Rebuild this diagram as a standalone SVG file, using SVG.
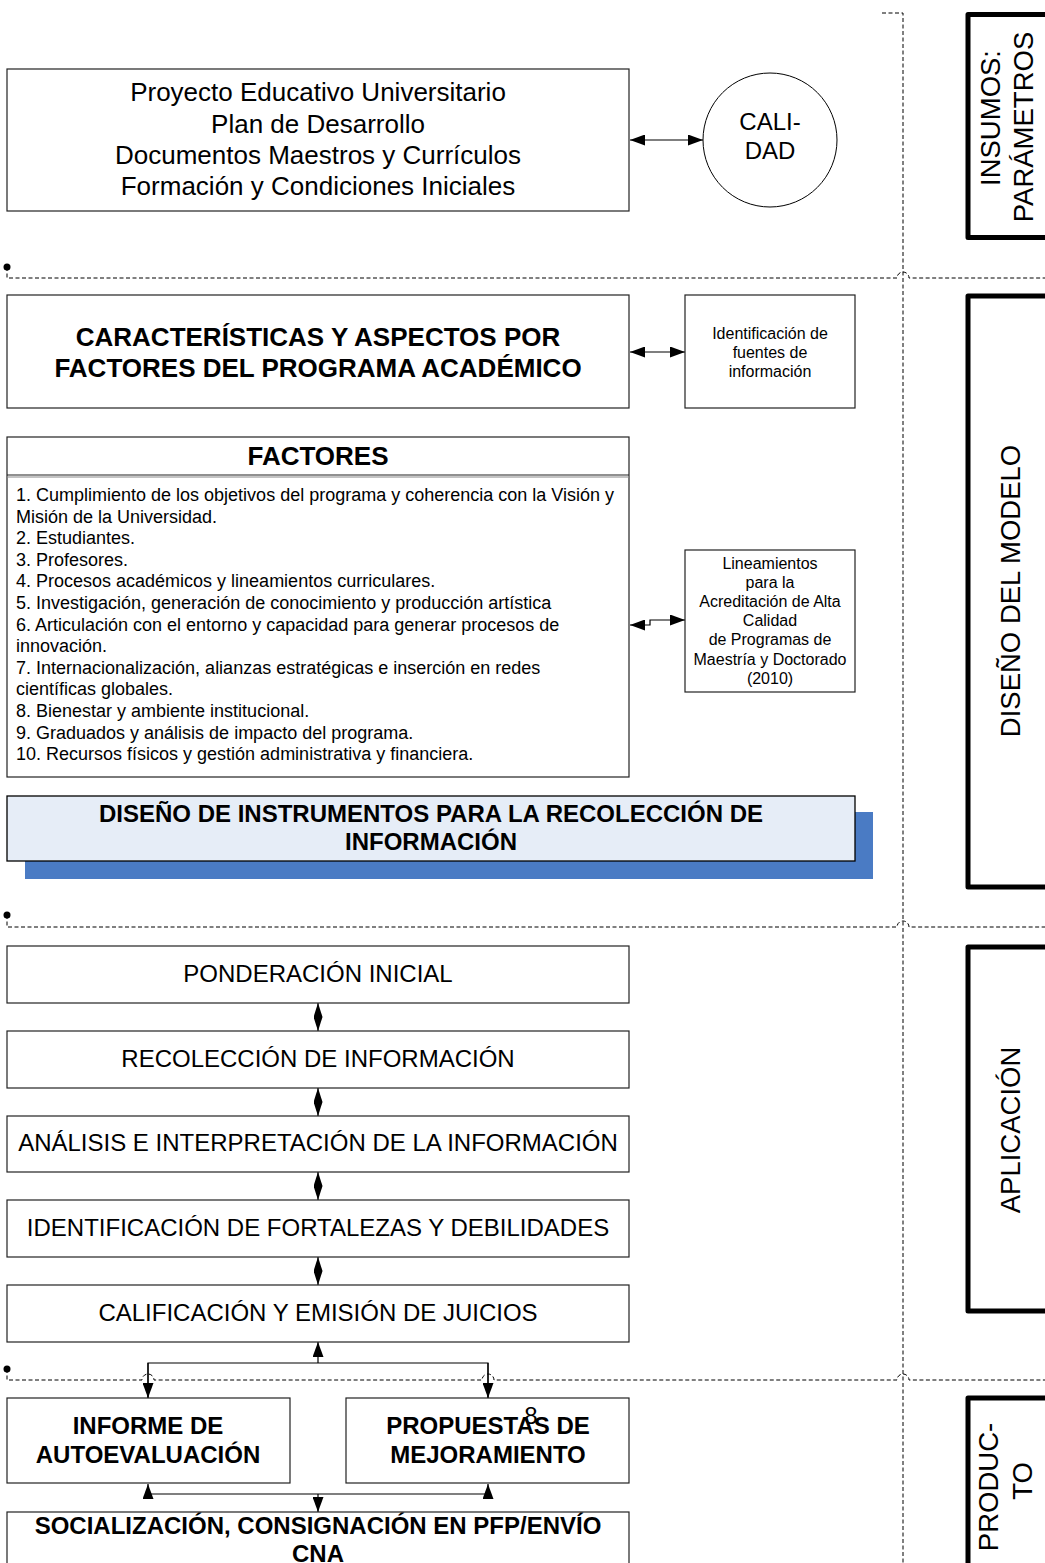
<svg xmlns="http://www.w3.org/2000/svg" width="1045" height="1563" viewBox="0 0 1045 1563">
<style>
text{font-family:"Liberation Sans",Arial,sans-serif;fill:#000}
.box{fill:#fff;stroke:#222;stroke-width:1.2}
.c{text-anchor:middle}
.b{font-weight:bold}
.f26{font-size:26px}.f24{font-size:24px}.f18{font-size:18px}.f16{font-size:16px}.f27{font-size:27.5px}
.dash{fill:none;stroke:#000;stroke-width:1;stroke-dasharray:4,2.5}
.br{fill:none;stroke:#000;stroke-width:5;stroke-linejoin:round}
.con{fill:none;stroke:#000;stroke-width:1.2}
</style>
<defs>
<marker id="ah" viewBox="0 0 15 11" refX="15" refY="5.5" markerWidth="15" markerHeight="11" markerUnits="userSpaceOnUse" orient="auto-start-reverse"><path d="M0,0 L15,5.5 L0,11 z" fill="#000"/></marker>
<marker id="sh" viewBox="0 0 14 9" refX="14" refY="4.5" markerWidth="14" markerHeight="9" markerUnits="userSpaceOnUse" orient="auto-start-reverse"><path d="M0,0 L14,4.5 L0,9 z" fill="#000"/></marker>
</defs>

<g id="swimlanes">
<path class="dash" d="M882,13 H903 V1563"/>
<path class="dash" d="M7,267 V278 H897 a6,6 0 0 1 12,0 H1045"/>
<path class="dash" d="M7,915 V927 H897 a6,6 0 0 1 12,0 H1045"/>
<path class="dash" d="M7,1369 V1380 H142 a6,6 0 0 1 12,0 H482 a6,6 0 0 1 12,0 H897 a6,6 0 0 1 12,0 H1045"/>
<circle cx="7" cy="267" r="3.5" fill="#000"/>
<circle cx="7" cy="915" r="3.5" fill="#000"/>
<circle cx="7" cy="1369" r="3.5" fill="#000"/>
</g>

<g id="lane-insumos">
<path class="br" d="M1047,14.5 H968 V237.5 H1047"/>
<text class="f27 c" transform="translate(1000,118) rotate(-90)">INSUMOS:</text>
<text class="f27 c" transform="translate(1033,127) rotate(-90)">PARÁMETROS</text>
</g>
<g id="lane-diseno">
<path class="br" d="M1047,296 H968 V887 H1047"/>
<text class="f27 c" transform="translate(1020,591) rotate(-90)">DISEÑO DEL MODELO</text>
</g>
<g id="lane-aplicacion">
<path class="br" d="M1047,947 H968 V1311 H1047"/>
<text class="f27 c" transform="translate(1020,1130) rotate(-90)">APLICACIÓN</text>
</g>
<g id="lane-producto">
<path class="br" d="M1047,1398 H968 V1568"/>
<text class="f27 c" transform="translate(998,1487) rotate(-90)">PRODUC-</text>
<text class="f27 c" transform="translate(1032,1481) rotate(-90)">TO</text>
</g>

<g id="connectors">
<line class="con" x1="630" y1="140" x2="703" y2="140" marker-start="url(#ah)" marker-end="url(#ah)"/>
<line class="con" x1="630" y1="352" x2="685" y2="352" marker-start="url(#ah)" marker-end="url(#ah)"/>
<path class="con" d="M630,625 H650 V620 H685" marker-start="url(#ah)" marker-end="url(#ah)"/>
<line class="con" x1="318" y1="1003" x2="318" y2="1031" marker-start="url(#sh)" marker-end="url(#sh)"/>
<line class="con" x1="318" y1="1088" x2="318" y2="1116" marker-start="url(#sh)" marker-end="url(#sh)"/>
<line class="con" x1="318" y1="1172" x2="318" y2="1200" marker-start="url(#sh)" marker-end="url(#sh)"/>
<line class="con" x1="318" y1="1257" x2="318" y2="1285" marker-start="url(#sh)" marker-end="url(#sh)"/>
<line class="con" x1="318" y1="1363" x2="318" y2="1342" marker-end="url(#ah)"/>
<path class="con" d="M148,1398 V1363 H488 V1398"/>
<line class="con" x1="148" y1="1363" x2="148" y2="1398" marker-end="url(#ah)"/>
<line class="con" x1="488" y1="1363" x2="488" y2="1398" marker-end="url(#ah)"/>
<path class="con" d="M148,1494 H488"/>
<line class="con" x1="148" y1="1494" x2="148" y2="1484" marker-end="url(#ah)"/>
<line class="con" x1="488" y1="1494" x2="488" y2="1484" marker-end="url(#ah)"/>
<line class="con" x1="318" y1="1494" x2="318" y2="1512" marker-end="url(#ah)"/>
</g>

<g id="n-proyecto">
<rect class="box" x="7" y="69" width="622" height="142"/>
<text class="f26 c" x="318" y="101">Proyecto Educativo Universitario</text>
<text class="f26 c" x="318" y="132.5">Plan de Desarrollo</text>
<text class="f26 c" x="318" y="164">Documentos Maestros y Currículos</text>
<text class="f26 c" x="318" y="195">Formación y Condiciones Iniciales</text>
</g>
<g id="n-calidad">
<circle cx="770" cy="140" r="67" fill="#fff" stroke="#000" stroke-width="1"/>
<text class="f24 c" x="770" y="130">CALI-</text>
<text class="f24 c" x="770" y="159">DAD</text>
</g>
<g id="n-caracteristicas">
<rect class="box" x="7" y="295" width="622" height="113"/>
<text class="f26 c b" x="318" y="345.5">CARACTERÍSTICAS Y ASPECTOS POR</text>
<text class="f26 c b" x="318" y="376.5">FACTORES DEL PROGRAMA ACADÉMICO</text>
</g>
<g id="n-fuentes">
<rect class="box" x="685" y="295" width="170" height="113"/>
<text class="f16 c" x="770" y="338.5">Identificación de</text>
<text class="f16 c" x="770" y="357.7">fuentes de</text>
<text class="f16 c" x="770" y="376.9">información</text>
</g>
<g id="n-factores">
<rect class="box" x="7" y="437" width="622" height="340"/>
<line x1="7" y1="475" x2="629" y2="475" stroke="#222" stroke-width="1.2"/>
<line x1="7" y1="477" x2="629" y2="477" stroke="#888" stroke-width="1"/>
<text class="f26 c b" x="318" y="465">FACTORES</text>
<text class="f18" x="16" y="501">1. Cumplimiento de los objetivos del programa y coherencia con la Visión y</text>
<text class="f18" x="16" y="522.6">Misión de la Universidad.</text>
<text class="f18" x="16" y="544.2">2. Estudiantes.</text>
<text class="f18" x="16" y="565.8">3. Profesores.</text>
<text class="f18" x="16" y="587.4">4. Procesos académicos y lineamientos curriculares.</text>
<text class="f18" x="16" y="609">5. Investigación, generación de conocimiento y producción artística</text>
<text class="f18" x="16" y="630.6">6. Articulación con el entorno y capacidad para generar procesos de</text>
<text class="f18" x="16" y="652.2">innovación.</text>
<text class="f18" x="16" y="673.8">7. Internacionalización, alianzas estratégicas e inserción en redes</text>
<text class="f18" x="16" y="695.4">científicas globales.</text>
<text class="f18" x="16" y="717">8. Bienestar y ambiente institucional.</text>
<text class="f18" x="16" y="738.6">9. Graduados y análisis de impacto del programa.</text>
<text class="f18" x="16" y="760.2">10. Recursos físicos y gestión administrativa y financiera.</text>
</g>
<g id="n-lineamientos">
<rect class="box" x="685" y="550" width="170" height="142"/>
<text class="f16 c" x="770" y="568.5">Lineamientos</text>
<text class="f16 c" x="770" y="587.7">para la</text>
<text class="f16 c" x="770" y="606.9">Acreditación de Alta</text>
<text class="f16 c" x="770" y="626.1">Calidad</text>
<text class="f16 c" x="770" y="645.3">de Programas de</text>
<text class="f16 c" x="770" y="664.5">Maestría y Doctorado</text>
<text class="f16 c" x="770" y="683.7">(2010)</text>
</g>
<g id="n-instrumentos">
<rect x="25" y="812" width="848" height="67" fill="#4a7bc4"/>
<rect x="7" y="796" width="848" height="65" fill="#e6edf7" stroke="#000" stroke-width="1.3"/>
<text class="f24 c b" x="431" y="821.5">DISEÑO DE INSTRUMENTOS PARA LA RECOLECCIÓN DE</text>
<text class="f24 c b" x="431" y="849.5">INFORMACIÓN</text>
</g>
<g id="n-ponderacion">
<rect class="box" x="7" y="946" width="622" height="57"/>
<text class="f24 c" x="318" y="981.5">PONDERACIÓN INICIAL</text>
</g>
<g id="n-recoleccion">
<rect class="box" x="7" y="1031" width="622" height="57"/>
<text class="f24 c" x="318" y="1066.5">RECOLECCIÓN DE INFORMACIÓN</text>
</g>
<g id="n-analisis">
<rect class="box" x="7" y="1116" width="622" height="56"/>
<text class="f24 c" x="318" y="1150.5">ANÁLISIS E INTERPRETACIÓN DE LA INFORMACIÓN</text>
</g>
<g id="n-identificacion">
<rect class="box" x="7" y="1200" width="622" height="57"/>
<text class="f24 c" x="318" y="1235.5">IDENTIFICACIÓN DE FORTALEZAS Y DEBILIDADES</text>
</g>
<g id="n-calificacion">
<rect class="box" x="7" y="1285" width="622" height="57"/>
<text class="f24 c" x="318" y="1320.5">CALIFICACIÓN Y EMISIÓN DE JUICIOS</text>
</g>
<g id="n-informe">
<rect class="box" x="7" y="1398" width="283" height="85"/>
<text class="f24 c b" x="148" y="1433.5">INFORME DE</text>
<text class="f24 c b" x="148" y="1462.5">AUTOEVALUACIÓN</text>
</g>
<g id="n-propuestas">
<rect class="box" x="346" y="1398" width="283" height="85"/>
<text class="f24 c b" x="488" y="1433.5">PROPUESTAS DE</text>
<text class="f24 c b" x="488" y="1462.5">MEJORAMIENTO</text>
<text class="f24 c" x="531" y="1424">8</text>
</g>
<g id="n-socializacion">
<rect class="box" x="7" y="1512" width="622" height="60"/>
<text class="f24 c b" x="318" y="1533.5">SOCIALIZACIÓN, CONSIGNACIÓN EN PFP/ENVÍO</text>
<text class="f24 c b" x="318" y="1561.5">CNA</text>
</g>
</svg>
